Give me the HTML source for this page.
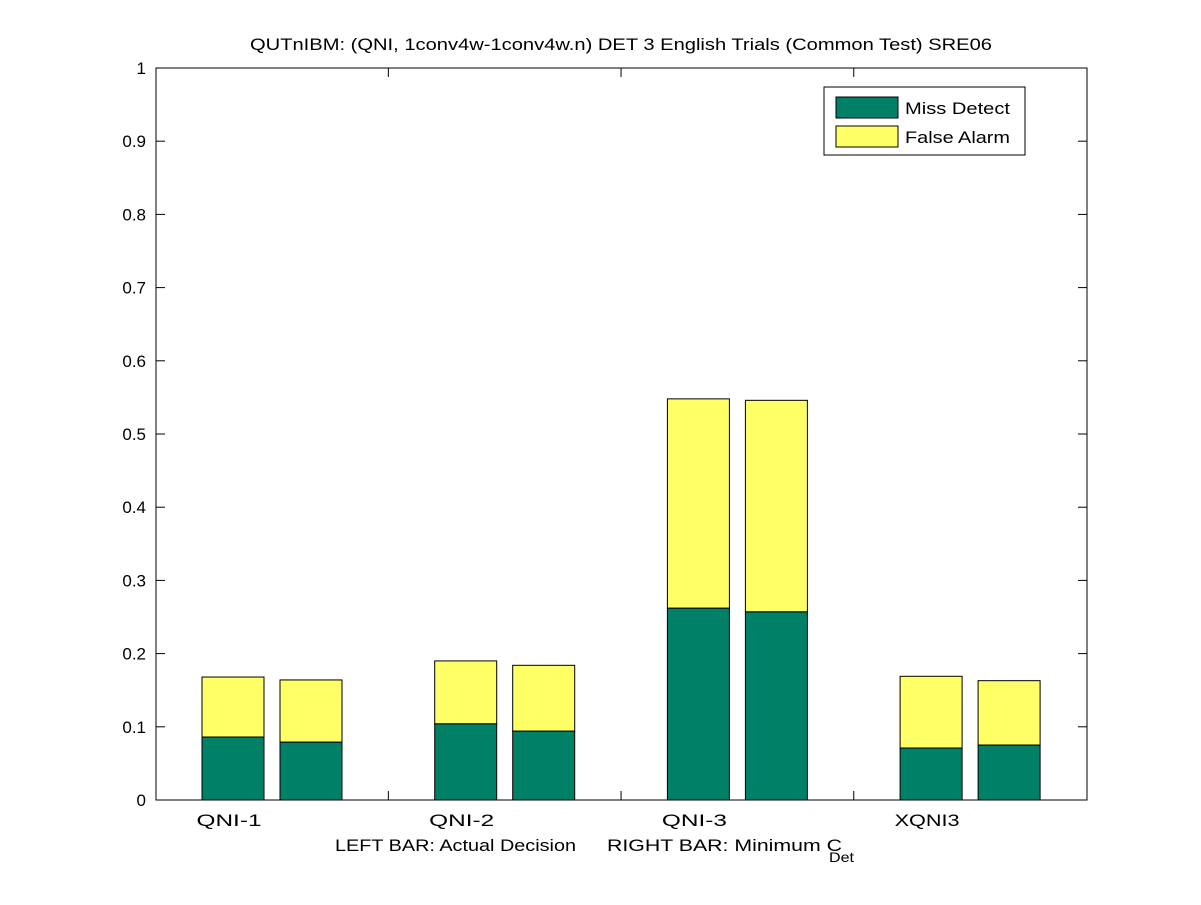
<!DOCTYPE html>
<html><head><meta charset="utf-8"><style>
body{margin:0;background:#fff;width:1201px;height:900px;overflow:hidden}
svg{font-family:"Liberation Sans",Arial,sans-serif}
</style></head><body>
<svg id="c" width="1201" height="900" xmlns="http://www.w3.org/2000/svg">
<text x="250" y="50" font-size="17" textLength="742" lengthAdjust="spacingAndGlyphs">QUTnIBM: (QNI, 1conv4w-1conv4w.n) DET 3 English Trials (Common Test) SRE06</text>
<g id="bars"></g>
<rect x="156" y="68" width="931" height="732" fill="none" stroke="#000" stroke-width="1"/>
<g id="axes"></g>
<text x="335" y="851" font-size="17" textLength="241" lengthAdjust="spacingAndGlyphs">LEFT BAR: Actual Decision</text>
<text x="607" y="851" font-size="17" textLength="235" lengthAdjust="spacingAndGlyphs">RIGHT BAR: Minimum C</text>
<text x="829" y="862" font-size="14" textLength="25" lengthAdjust="spacingAndGlyphs">Det</text>
<g>
<rect x="824" y="87" width="201" height="68" fill="#fff" stroke="#000"/>
<rect x="836" y="97" width="62" height="21" fill="#008066" stroke="#000"/>
<text x="905" y="114" font-size="17" textLength="105" lengthAdjust="spacingAndGlyphs">Miss Detect</text>
<rect x="836" y="126" width="62" height="21" fill="#ffff66" stroke="#000"/>
<text x="905" y="143" font-size="17" textLength="105" lengthAdjust="spacingAndGlyphs">False Alarm</text>
</g>
</svg>
<script>
const categories=["QNI-1","QNI-2","QNI-3","XQNI3"];
const missLeft=[0.086,0.104,0.262,0.071];
const totalLeft=[0.168,0.190,0.548,0.169];
const missRight=[0.079,0.094,0.257,0.075];
const totalRight=[0.164,0.184,0.546,0.163];
const yTicks=[0,0.1,0.2,0.3,0.4,0.5,0.6,0.7,0.8,0.9,1];
const yTickLabels=["0","0.1","0.2","0.3","0.4","0.5","0.6","0.7","0.8","0.9","1"];
const NS="http://www.w3.org/2000/svg";
const L=156,R=1087,T=68,B=800;
function y(v){return B-v*(B-T);}
function gx(i){return 272+i*232.7;}
function el(t,a,p){const e=document.createElementNS(NS,t);for(const k in a)e.setAttribute(k,a[k]);p.appendChild(e);return e;}
const bars=document.getElementById('bars'),axes=document.getElementById('axes');
const bw=62;
categories.forEach((c,i)=>{
  const sets=[[gx(i)-70,missLeft[i],totalLeft[i],'left'],[gx(i)+8,missRight[i],totalRight[i],'right']];
  sets.forEach(s=>{
    const fa=el('rect',{x:s[0],y:y(s[2]),width:bw,height:y(s[1])-y(s[2]),fill:'#ffff66',stroke:'#000'},bars);
    
    
    const md=el('rect',{x:s[0],y:y(s[1]),width:bw,height:B-y(s[1]),fill:'#008066',stroke:'#000'},bars);
    
    
  });
  const t=el('text',{x:gx(i)-43,y:826,'font-size':17,'text-anchor':'middle',textLength:c.length*13,lengthAdjust:'spacingAndGlyphs'},axes);
  t.textContent=c;
  
  
  if(i>0){
    const xx=gx(i)-116.35;
    el('line',{x1:xx,x2:xx,y1:B,y2:B-9,stroke:'#000'},axes);
    el('line',{x1:xx,x2:xx,y1:T,y2:T+9,stroke:'#000'},axes);
  }
});
yTicks.forEach((v,i)=>{
  const yy=y(v);
  el('line',{x1:L,x2:L+9,y1:yy,y2:yy,stroke:'#000'},axes);
  el('line',{x1:R,x2:R-9,y1:yy,y2:yy,stroke:'#000'},axes);
  const t=el('text',{x:L-10,y:yy+6,'font-size':17,'text-anchor':'end'},axes);
  t.textContent=yTickLabels[i];
  
  
});
</script>
</body></html>
